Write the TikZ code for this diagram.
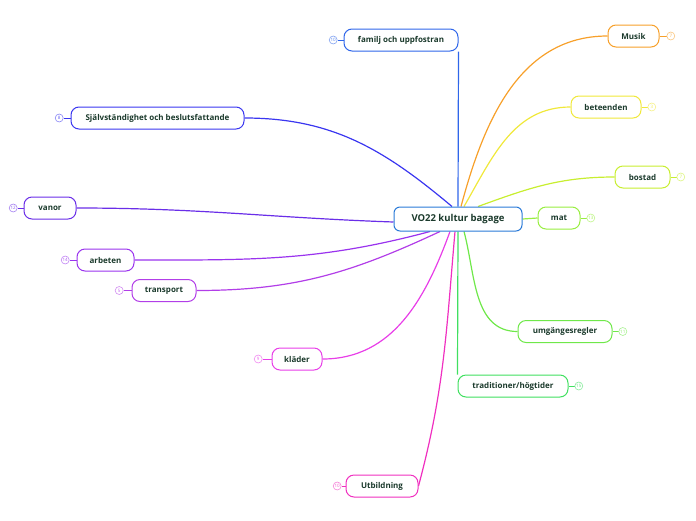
\documentclass[tikz,border=0pt]{standalone}
\usepackage{fontspec}
\setmainfont{Open Sans}
\usetikzlibrary{positioning, backgrounds}

\definecolor{txtc}{HTML}{1B3A2C}
\definecolor{rootc}{HTML}{2A7AD8}
\definecolor{famc}{HTML}{2F66EA}
\definecolor{selvc}{HTML}{3A36F0}
\definecolor{vanc}{HTML}{6A2EE8}
\definecolor{arbc}{HTML}{9A33EE}
\definecolor{trac}{HTML}{B23EE8}
\definecolor{klac}{HTML}{E83EE8}
\definecolor{utbc}{HTML}{F030C0}
\definecolor{musc}{HTML}{F7A02A}
\definecolor{betc}{HTML}{F0E83A}
\definecolor{bosc}{HTML}{C8EE30}
\definecolor{matc}{HTML}{98EE40}
\definecolor{umgc}{HTML}{6FE84A}
\definecolor{trdc}{HTML}{40E060}

\begin{document}
\begin{tikzpicture}[
  x=1pt, y=-1pt,
  rootbox/.style={draw=rootc, fill=white, rounded corners=6pt, line width=1pt,
                  minimum width=128pt, minimum height=24pt, text=txtc,
                  font=\bfseries\fontsize{9.5}{11}\selectfont},
  branch/.style={draw=#1, fill=white, rounded corners=8pt, line width=1pt,
                 minimum height=22pt, text=txtc, inner xsep=4pt,
                 font=\bfseries\fontsize{8}{9.5}\selectfont},
  badge/.style={circle, draw=#1!60, fill=white, line width=0.6pt, inner sep=0pt,
                minimum size=8pt, text=#1!80, font=\fontsize{4.5}{5}\selectfont},
  link/.style={draw=#1, line width=1.2pt},
  tick/.style={draw=#1, line width=0.8pt},
]
\useasboundingbox (0,0) rectangle (696,520);

% --- centre ---
\node[rootbox] (root) at (458,219) {VO22 kultur bagage};

% --- left / top branches ---
\node[branch=famc, minimum width=114pt] (fam) at (401,40) {familj och uppfostran};
\node[branch=selvc, minimum width=173pt] (selv) at (157.5,118) {Självständighet och beslutsfattande};
\node[branch=vanc, minimum width=52pt] (vanor) at (50,208) {vanor};
\node[branch=arbc, minimum width=57pt] (arb) at (105.5,260) {arbeten};
\node[branch=trac, minimum width=64pt] (trans) at (164,290.5) {transport};
\node[branch=klac, minimum width=50pt] (klad) at (297,359) {kläder};
\node[branch=utbc, minimum width=72pt] (utb) at (382,486) {Utbildning};

% --- right branches ---
\node[branch=musc, minimum width=51pt] (musik) at (633.5,36) {Musik};
\node[branch=betc, minimum width=70pt] (betn) at (606,107) {beteenden};
\node[branch=bosc, minimum width=55pt] (bost) at (642.5,177) {bostad};
\node[branch=matc, minimum width=42pt] (mat) at (559,218) {mat};
\node[branch=umgc, minimum width=94pt] (umg) at (565,331.5) {umgängesregler};
\node[branch=trdc, minimum width=110pt] (trad) at (513,386) {traditioner/högtider};

% --- number badges ---
\node[badge=famc, left=6pt of fam] (fam-no) {10};
\node[badge=selvc, left=7pt of selv] (selv-no) {8};
\node[badge=vanc, left=6pt of vanor] (vanor-no) {12};
\node[badge=arbc, left=7pt of arb] (arb-no) {14};
\node[badge=trac, left=8pt of trans] (trans-no) {5};
\node[badge=klac, left=9pt of klad] (klad-no) {9};
\node[badge=utbc, left=4pt of utb] (utb-no) {10};
\node[badge=musc, right=7pt of musik] (musik-no) {7};
\node[badge=betc, right=6pt of betn] (betn-no) {3};
\node[badge=bosc, right=6pt of bost] (bost-no) {7};
\node[badge=matc, right=6pt of mat] (mat-no) {13};
\node[badge=umgc, right=6pt of umg] (umg-no) {11};
\node[badge=trdc, right=6pt of trad] (trad-no) {15};

% --- connectors ---
\begin{scope}[on background layer]
  \draw[link=famc] (root.north) -- (fam.south east);
  \draw[link=selvc] ([xshift=-6pt]root.north) to[out=140, in=0] (selv.east);
  \draw[link=vanc] ([yshift=-3pt]root.west) to[out=178, in=0] (vanor.east);
  \draw[link=arbc] ([xshift=-28pt]root.south) to[out=195, in=0] (arb.east);
  \draw[link=trac] ([xshift=-18pt]root.south) to[out=205, in=0] (trans.east);
  \draw[link=klac] ([xshift=-8pt]root.south) to[out=250, in=0] (klad.east);
  \draw[link=utbc] ([xshift=-3pt]root.south) to[out=265, in=75] (utb.east);
  \draw[link=musc] ([xshift=3pt]root.north) to[out=75, in=180] (musik.west);
  \draw[link=betc] ([xshift=6pt]root.north) to[out=60, in=180] (betn.west);
  \draw[link=bosc] ([xshift=20pt]root.north) to[out=20, in=180] (bost.west);
  \draw[link=matc] (root.east) -- (mat.west);
  \draw[link=umgc] ([xshift=6pt]root.south) to[out=-75, in=180] (umg.west);
  \draw[link=trdc] (root.south) -- (trad.north west);
  % badge ticks
  \draw[tick=famc] (fam-no) -- (fam);
  \draw[tick=selvc] (selv-no) -- (selv);
  \draw[tick=vanc] (vanor-no) -- (vanor);
  \draw[tick=arbc] (arb-no) -- (arb);
  \draw[tick=trac] (trans-no) -- (trans);
  \draw[tick=klac] (klad-no) -- (klad);
  \draw[tick=utbc] (utb-no) -- (utb);
  \draw[tick=musc] (musik-no) -- (musik);
  \draw[tick=betc] (betn-no) -- (betn);
  \draw[tick=bosc] (bost-no) -- (bost);
  \draw[tick=matc] (mat-no) -- (mat);
  \draw[tick=umgc] (umg-no) -- (umg);
  \draw[tick=trdc] (trad-no) -- (trad);
\end{scope}

\end{tikzpicture}
\end{document}
